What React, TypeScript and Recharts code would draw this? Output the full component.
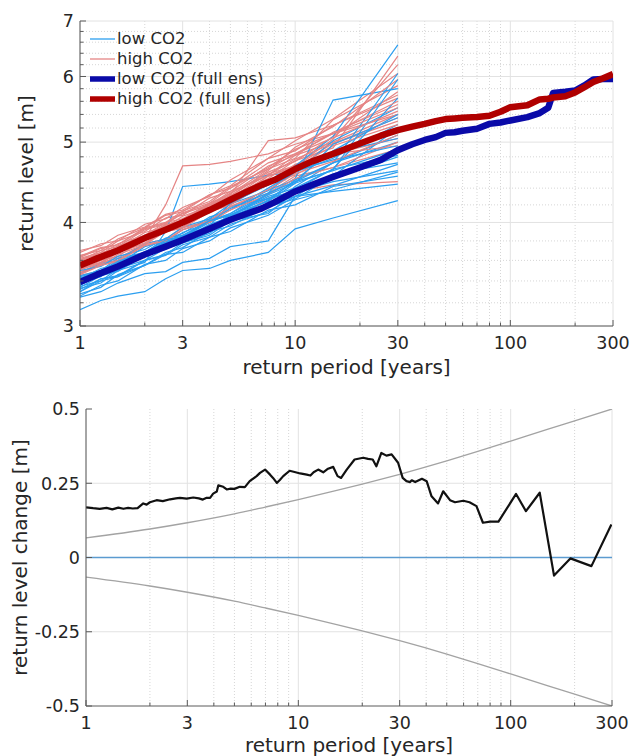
import React from 'react';
import { LineChart, Line, XAxis, YAxis, CartesianGrid, ReferenceLine } from 'recharts';

// axis ticks (MATLAB style: labelled majors + minor grid)
const periodTicks = [1, 3, 10, 30, 100, 300];
const periodMinor = [2, 4, 5, 6, 7, 8, 9, 20, 40, 50, 60, 70, 80, 90, 200];
const periodAll = [...periodTicks, ...periodMinor].sort((a, b) => a - b);

const levelTicks = [3, 4, 5, 6, 7];
const levelMinor = [3.2, 3.4, 3.6, 3.8, 4.2, 4.4, 4.6, 4.8, 5.2, 5.4, 5.6, 5.8, 6.2, 6.4, 6.6, 6.8];
const levelAll = [...levelTicks, ...levelMinor].sort((a, b) => a - b);

const changeTicks = [-0.5, -0.25, 0, 0.25, 0.5];

// ensemble members (30-yr samples), return level [m]
const memberPeriods = [1, 1.25, 1.5, 2, 2.5, 3, 4, 5, 7.5, 10, 15, 30];
const lowMembers = [
  [3.14, 3.22, 3.26, 3.3, 3.42, 3.5, 3.52, 3.6, 3.68, 3.93, 4.05, 4.25],
  [3.25, 3.3, 3.38, 3.47, 3.49, 3.58, 3.62, 3.74, 3.8, 4.3, 4.36, 4.45],
  [3.3, 3.42, 3.44, 3.55, 3.66, 3.68, 3.84, 3.9, 4.14, 4.2, 4.42, 4.55],
  [3.35, 3.4, 3.52, 3.6, 3.72, 3.78, 3.86, 4.02, 4.1, 4.35, 4.48, 4.62],
  [3.38, 3.48, 3.52, 3.67, 3.74, 3.86, 3.95, 4.08, 4.2, 4.3, 4.58, 4.72],
  [3.4, 3.46, 3.58, 3.66, 3.8, 3.84, 4.04, 4.08, 4.28, 4.36, 4.52, 4.8],
  [3.42, 3.52, 3.56, 3.74, 3.8, 3.92, 4.02, 4.18, 4.27, 4.48, 4.62, 4.9],
  [3.33, 3.38, 3.5, 3.58, 3.9, 4.42, 4.45, 4.48, 4.56, 4.6, 4.86, 5.05],
  [3.45, 3.5, 3.62, 3.68, 3.82, 3.84, 4.0, 4.1, 4.38, 4.5, 4.72, 5.0],
  [3.36, 3.46, 3.5, 3.66, 3.71, 3.82, 3.9, 4.06, 4.17, 4.42, 4.72, 5.1],
  [3.28, 3.34, 3.46, 3.55, 3.68, 3.73, 3.9, 3.96, 4.18, 4.27, 4.55, 5.2],
  [3.47, 3.57, 3.6, 3.77, 3.82, 3.95, 4.04, 4.21, 4.37, 4.6, 4.78, 5.25],
  [3.38, 3.44, 3.57, 3.66, 3.79, 3.84, 4.02, 4.1, 4.33, 4.52, 5.62, 5.8],
  [3.32, 3.42, 3.45, 3.6, 3.66, 3.78, 3.88, 4.06, 4.25, 4.5, 4.88, 5.4],
  [3.44, 3.49, 3.6, 3.68, 3.82, 3.88, 4.06, 4.14, 4.4, 4.6, 5.02, 5.5],
  [3.36, 3.47, 3.52, 3.69, 3.76, 3.89, 4.0, 4.16, 4.34, 4.68, 5.08, 6.55],
  [3.41, 3.47, 3.58, 3.67, 3.79, 3.82, 3.98, 4.06, 4.34, 4.48, 4.72, 6.05],
  [3.3, 3.4, 3.44, 3.6, 3.65, 3.76, 3.84, 3.98, 4.12, 4.3, 4.43, 4.7],
  [3.5, 3.54, 3.64, 3.71, 3.83, 3.86, 4.02, 4.08, 4.3, 4.4, 4.64, 4.82],
  [3.34, 3.45, 3.49, 3.65, 3.72, 3.85, 3.96, 4.22, 4.44, 4.62, 4.76, 4.95],
  [3.39, 3.45, 3.57, 3.64, 3.78, 3.81, 3.97, 4.03, 4.26, 4.38, 4.64, 5.65],
  [3.26, 3.36, 3.4, 3.56, 3.6, 3.72, 3.8, 3.94, 4.08, 4.26, 4.38, 4.6],
  [3.43, 3.48, 3.59, 3.68, 3.81, 3.85, 4.02, 4.08, 4.32, 4.46, 4.97, 5.35],
  [3.37, 3.47, 3.5, 3.66, 3.72, 3.84, 3.93, 4.09, 4.24, 4.46, 4.63, 5.95],
];
const highMembers = [
  [3.45, 3.5, 3.58, 3.66, 3.78, 3.82, 3.96, 4.02, 4.28, 4.36, 4.44, 4.48],
  [3.48, 3.58, 3.62, 3.77, 3.82, 3.94, 4.02, 4.18, 4.34, 4.55, 4.66, 4.9],
  [3.52, 3.58, 3.68, 3.78, 3.9, 3.94, 4.12, 4.2, 4.48, 4.56, 4.84, 5.05],
  [3.55, 3.64, 3.68, 3.84, 3.9, 4.02, 4.12, 4.28, 4.46, 4.7, 4.86, 5.2],
  [3.58, 3.64, 3.75, 3.85, 3.98, 4.02, 4.2, 4.28, 4.58, 4.68, 4.98, 5.3],
  [3.6, 3.7, 3.74, 3.92, 3.98, 4.1, 4.2, 4.36, 4.56, 4.82, 5.0, 5.4],
  [3.62, 3.68, 3.8, 3.9, 4.05, 4.08, 4.28, 4.36, 4.68, 4.82, 5.14, 5.55],
  [3.5, 3.6, 3.64, 3.82, 4.2, 4.68, 4.7, 4.74, 4.84, 4.97, 5.12, 5.4],
  [3.65, 3.7, 3.82, 3.94, 4.08, 4.12, 4.32, 4.43, 4.78, 4.88, 5.24, 5.65],
  [3.53, 3.62, 3.68, 3.84, 3.9, 4.0, 4.14, 4.32, 5.02, 5.06, 5.24, 5.7],
  [3.56, 3.62, 3.74, 3.84, 3.97, 4.02, 4.22, 4.33, 4.64, 4.78, 5.32, 5.85],
  [3.68, 3.77, 3.8, 3.98, 4.04, 4.17, 4.3, 4.5, 4.78, 5.02, 5.33, 6.05],
  [3.49, 3.55, 3.66, 3.76, 3.9, 3.95, 4.14, 4.24, 4.55, 4.68, 5.04, 6.2],
  [3.57, 3.66, 3.7, 3.86, 3.92, 4.04, 4.14, 4.3, 4.52, 4.75, 4.92, 6.35],
  [3.61, 3.66, 3.77, 3.86, 4.0, 4.04, 4.22, 4.31, 4.6, 4.74, 5.08, 5.75],
  [3.47, 3.56, 3.6, 3.76, 3.81, 3.92, 4.0, 4.14, 4.32, 4.52, 4.66, 5.0],
  [3.54, 3.6, 3.72, 3.82, 3.96, 4.0, 4.18, 4.26, 4.55, 4.66, 4.95, 5.25],
  [3.63, 3.72, 3.76, 3.93, 3.99, 4.11, 4.22, 4.4, 4.66, 4.9, 5.12, 5.5],
  [3.51, 3.57, 3.68, 3.77, 3.9, 3.94, 4.12, 4.2, 4.48, 4.6, 4.84, 4.95],
  [3.59, 3.68, 3.72, 3.89, 3.95, 4.07, 4.18, 4.34, 4.56, 4.77, 4.98, 5.35],
  [3.7, 3.75, 3.86, 3.95, 4.09, 4.14, 4.32, 4.4, 4.72, 4.84, 5.12, 5.6],
  [3.46, 3.55, 3.59, 3.75, 3.8, 3.92, 4.02, 4.18, 4.38, 4.58, 4.74, 5.1],
  [3.57, 3.63, 3.74, 3.83, 3.97, 4.01, 4.2, 4.3, 4.62, 4.93, 5.22, 5.95],
  [3.64, 3.73, 3.76, 3.94, 4.0, 4.13, 4.24, 4.42, 4.64, 4.84, 5.06, 5.45],
];

// full ensemble return levels [m]
const fullPeriods = [1, 1.2, 1.5, 2, 2.5, 3, 4, 5, 6, 7, 8, 10, 12, 15, 20, 25, 30, 35, 40, 45, 50, 55, 60, 70, 80, 90, 100, 120, 137, 150, 158, 180, 200, 220, 243, 270, 300];
const lowFull = [3.39, 3.46, 3.54, 3.66, 3.74, 3.81, 3.93, 4.03, 4.1, 4.16, 4.23, 4.36, 4.44, 4.54, 4.66, 4.76, 4.89, 4.97, 5.03, 5.07, 5.13, 5.14, 5.16, 5.19, 5.26, 5.28, 5.31, 5.36, 5.42, 5.5, 5.73, 5.75, 5.77, 5.85, 5.95, 5.96, 5.96];
const highFull = [3.55, 3.62, 3.7, 3.83, 3.92, 4.0, 4.14, 4.26, 4.36, 4.44, 4.5, 4.64, 4.74, 4.84, 4.98, 5.09, 5.17, 5.22, 5.26, 5.3, 5.33, 5.34, 5.35, 5.36, 5.38, 5.44, 5.51, 5.54, 5.63, 5.64, 5.66, 5.68, 5.74, 5.82, 5.91, 5.97, 6.04];

// return level change (high - low) [m]
const changePeriods = [1, 1.08, 1.16, 1.25, 1.33, 1.42, 1.5, 1.58, 1.66, 1.75, 1.86, 1.93, 2, 2.15, 2.3, 2.49, 2.65, 2.77, 2.98, 3.2, 3.4, 3.55, 3.7, 3.84, 3.97, 4.13, 4.2, 4.43, 4.6, 4.8, 5, 5.3, 5.6, 5.9, 6.36, 6.6, 6.97, 7.36, 7.6, 7.92, 8.2, 8.49, 9.1, 9.6, 10.2, 10.96, 11.4, 11.8, 12.4, 13.1, 13.8, 14.6, 15.3, 15.9, 16.9, 18.4, 20.2, 21.3, 22.4, 23.3, 24.6, 26, 27.5, 29.5, 31, 32.3, 33.6, 34.2, 35.5, 38.2, 40.2, 42.4, 45.5, 48.1, 51.8, 54.7, 59.8, 64, 69, 74, 80, 87.6, 106, 118, 137, 160, 191, 240, 298];
const changeValues = [0.169, 0.166, 0.164, 0.167, 0.162, 0.168, 0.164, 0.167, 0.165, 0.166, 0.182, 0.178, 0.186, 0.193, 0.19, 0.196, 0.199, 0.201, 0.198, 0.202, 0.199, 0.195, 0.201, 0.201, 0.215, 0.222, 0.243, 0.238, 0.229, 0.232, 0.231, 0.238, 0.237, 0.257, 0.274, 0.285, 0.296, 0.279, 0.268, 0.251, 0.262, 0.274, 0.292, 0.288, 0.283, 0.279, 0.276, 0.287, 0.296, 0.287, 0.299, 0.305, 0.274, 0.268, 0.296, 0.33, 0.336, 0.332, 0.33, 0.307, 0.352, 0.343, 0.347, 0.319, 0.268, 0.257, 0.254, 0.26, 0.254, 0.265, 0.257, 0.206, 0.182, 0.223, 0.193, 0.186, 0.191, 0.186, 0.173, 0.117, 0.121, 0.121, 0.214, 0.156, 0.218, -0.061, -0.003, -0.029, 0.111];

// significance envelope
const ciPeriods = [1, 2, 3, 5, 7, 10, 15, 20, 30, 50, 70, 100, 150, 200, 300];
const ciUpper = [0.066, 0.096, 0.117, 0.147, 0.17, 0.195, 0.225, 0.247, 0.28, 0.325, 0.357, 0.392, 0.432, 0.46, 0.5];
const ciLower = [-0.066, -0.096, -0.117, -0.147, -0.17, -0.195, -0.225, -0.247, -0.28, -0.325, -0.357, -0.392, -0.432, -0.46, -0.5];

const LOW_THIN = '#2c9ff0';
const HIGH_THIN = '#e58585';
const LOW_FULL = '#0a0aa8';
const HIGH_FULL = '#b00000';
const TEXT = '#262626';
const AXIS = '#5a5a5a';
const BOX = '#8c8c8c';
const FONT = 'DejaVu Sans';

const legendItems = [
  { label: 'low CO2', color: LOW_THIN, width: 1.3 },
  { label: 'high CO2', color: HIGH_THIN, width: 1.3 },
  { label: 'low CO2 (full ens)', color: LOW_FULL, width: 5.5 },
  { label: 'high CO2 (full ens)', color: HIGH_FULL, width: 5.5 },
];

const toPoints = (xs: number[], ys: number[]) => xs.map((x, i) => ({ x, y: ys[i] }));

const isIn = (list: number[], v: number) => list.some((m) => Math.abs(m - v) < 1e-9);

// inward MATLAB-like tick, optional label
const makeTick = (side: 'bottom' | 'top' | 'left' | 'right', major: number[], labelled: boolean) =>
  (props: any) => {
    const { x, y, payload } = props;
    const v = payload.value;
    const big = isIn(major, v);
    const len = big ? 6 : 3.5;
    let line;
    if (side === 'bottom') line = <line x1={x} y1={y} x2={x} y2={y - len} stroke={AXIS} />;
    else if (side === 'top') line = <line x1={x} y1={y} x2={x} y2={y + len} stroke={BOX} />;
    else if (side === 'left') line = <line x1={x} y1={y} x2={x + len} y2={y} stroke={AXIS} />;
    else line = <line x1={x} y1={y} x2={x - len} y2={y} stroke={BOX} />;
    let label = null;
    if (labelled && big) {
      if (side === 'bottom') {
        label = (
          <text x={x} y={y + 11} dy="0.71em" textAnchor="middle" fontSize={17.5} fill={TEXT} fontFamily={FONT}>
            {String(v)}
          </text>
        );
      } else if (side === 'left') {
        label = (
          <text x={x - 6} y={y} dy="0.36em" textAnchor="end" fontSize={17.5} fill={TEXT} fontFamily={FONT}>
            {String(v)}
          </text>
        );
      }
    }
    return (
      <g>
        {line}
        {label}
      </g>
    );
  };

const TopPanel = () => {
  const series: React.ReactNode[] = [];
  lowMembers.forEach((vals, i) => {
    series.push(
      <Line key={'low' + i} data={toPoints(memberPeriods, vals)} dataKey="y" stroke={LOW_THIN}
        strokeWidth={1.2} dot={false} activeDot={false} isAnimationActive={false} />
    );
    series.push(
      <Line key={'high' + i} data={toPoints(memberPeriods, highMembers[i])} dataKey="y" stroke={HIGH_THIN}
        strokeWidth={1.2} dot={false} activeDot={false} isAnimationActive={false} />
    );
  });
  return (
    <LineChart width={630} height={390} margin={{ top: 21, right: 17, bottom: 0, left: 0 }}>
      <CartesianGrid verticalValues={periodMinor} horizontalValues={levelMinor} stroke="#d6d6d6" strokeDasharray="1 2" />
      <CartesianGrid verticalValues={periodTicks} horizontalValues={levelTicks} stroke="#e2e2e2" />
      <XAxis dataKey="x" type="number" scale="log" domain={[1, 300]} allowDataOverflow ticks={periodAll}
        interval={0} height={64} tickSize={0} tickMargin={0} tickLine={false}
        axisLine={{ stroke: AXIS }} tick={makeTick('bottom', periodTicks, true)} />
      <XAxis xAxisId="top" orientation="top" type="number" scale="log" domain={[1, 300]} allowDataOverflow
        ticks={periodAll} interval={0} height={0} tickSize={0} tickMargin={0} tickLine={false}
        axisLine={{ stroke: BOX }} tick={makeTick('top', periodTicks, false)} />
      <YAxis type="number" scale="log" domain={[3, 7]} allowDataOverflow ticks={levelAll} interval={0}
        width={80} tickSize={0} tickMargin={0} tickLine={false} axisLine={{ stroke: AXIS }}
        tick={makeTick('left', levelTicks, true)} />
      <YAxis yAxisId="right" orientation="right" type="number" scale="log" domain={[3, 7]} allowDataOverflow
        ticks={levelAll} interval={0} width={0} tickSize={0} tickMargin={0} tickLine={false}
        axisLine={{ stroke: BOX }} tick={makeTick('right', levelTicks, false)} />
      {series}
      <Line data={toPoints(fullPeriods, lowFull)} dataKey="y" stroke={LOW_FULL} strokeWidth={6.5}
        strokeLinejoin="round" dot={false} activeDot={false} isAnimationActive={false} />
      <Line data={toPoints(fullPeriods, highFull)} dataKey="y" stroke={HIGH_FULL} strokeWidth={6.5}
        strokeLinejoin="round" dot={false} activeDot={false} isAnimationActive={false} />
    </LineChart>
  );
};

const BottomPanel = () => (
  <LineChart width={630} height={366} margin={{ top: 19, right: 18, bottom: 0, left: 0 }}>
    <CartesianGrid verticalValues={periodMinor} horizontal={false} stroke="#d6d6d6" strokeDasharray="1 2" />
    <CartesianGrid verticalValues={periodTicks} horizontalValues={[-0.25, 0.25]} stroke="#e2e2e2" />
    <XAxis dataKey="x" type="number" scale="log" domain={[1, 300]} allowDataOverflow ticks={periodAll}
      interval={0} height={50} tickSize={0} tickMargin={0} tickLine={false}
      axisLine={{ stroke: AXIS }} tick={makeTick('bottom', periodTicks, true)} />
    <XAxis xAxisId="top" orientation="top" type="number" scale="log" domain={[1, 300]} allowDataOverflow
      ticks={periodAll} interval={0} height={0} tickSize={0} tickMargin={0} tickLine={false}
      axisLine={{ stroke: BOX }} tick={makeTick('top', periodTicks, false)} />
    <YAxis type="number" domain={[-0.5, 0.5]} allowDataOverflow ticks={changeTicks} interval={0}
      width={86} tickSize={0} tickMargin={0} tickLine={false} axisLine={{ stroke: AXIS }}
      tick={makeTick('left', changeTicks, true)} />
    <YAxis yAxisId="right" orientation="right" type="number" domain={[-0.5, 0.5]} allowDataOverflow
      ticks={changeTicks} interval={0} width={0} tickSize={0} tickMargin={0} tickLine={false}
      axisLine={{ stroke: BOX }} tick={makeTick('right', changeTicks, false)} />
    <ReferenceLine y={0} stroke="#5b9bd0" strokeWidth={1.6} />
    <Line data={toPoints(ciPeriods, ciUpper)} dataKey="y" stroke="#a3a3a3" strokeWidth={1.3}
      type="monotone" dot={false} activeDot={false} isAnimationActive={false} />
    <Line data={toPoints(ciPeriods, ciLower)} dataKey="y" stroke="#a3a3a3" strokeWidth={1.3}
      type="monotone" dot={false} activeDot={false} isAnimationActive={false} />
    <Line data={toPoints(changePeriods, changeValues)} dataKey="y" stroke="#111111" strokeWidth={2.2}
      strokeLinejoin="round" dot={false} activeDot={false} isAnimationActive={false} />
  </LineChart>
);

export default function App() {
  return (
    <div style={{ position: 'absolute', left: 0, top: 0, width: 630, height: 756, background: '#fff', fontFamily: FONT }}>
      <div style={{ position: 'absolute', left: 0, top: 0 }}>
        <TopPanel />
      </div>
      <div style={{ position: 'absolute', left: 0, top: 390 }}>
        <BottomPanel />
      </div>
      {/* legend of the top panel */}
      <div style={{ position: 'absolute', left: 88, top: 29, fontSize: 16.5, color: TEXT, lineHeight: '20px' }}>
        {legendItems.map((it) => (
          <div key={it.label} style={{ display: 'flex', alignItems: 'center', height: 20 }}>
            <svg width={28} height={20} style={{ display: 'block' }}>
              <line x1={2} y1={10} x2={27} y2={10} stroke={it.color} strokeWidth={it.width} />
            </svg>
            <span style={{ marginLeft: 1, whiteSpace: 'nowrap' }}>{it.label}</span>
          </div>
        ))}
      </div>
      {/* axis titles */}
      <svg width={630} height={756} style={{ position: 'absolute', left: 0, top: 0, pointerEvents: 'none' }}>
        <g fontFamily={FONT} fontSize={20} fill={TEXT}>
          <text x={346.5} y={374} textAnchor="middle">return period [years]</text>
          <text x={349} y={752} textAnchor="middle">return period [years]</text>
          <text x={33} y={173.5} textAnchor="middle" transform="rotate(-90 33 173.5)">return level [m]</text>
          <text x={27} y={557.5} textAnchor="middle" transform="rotate(-90 27 557.5)">return level change [m]</text>
        </g>
      </svg>
    </div>
  );
}
